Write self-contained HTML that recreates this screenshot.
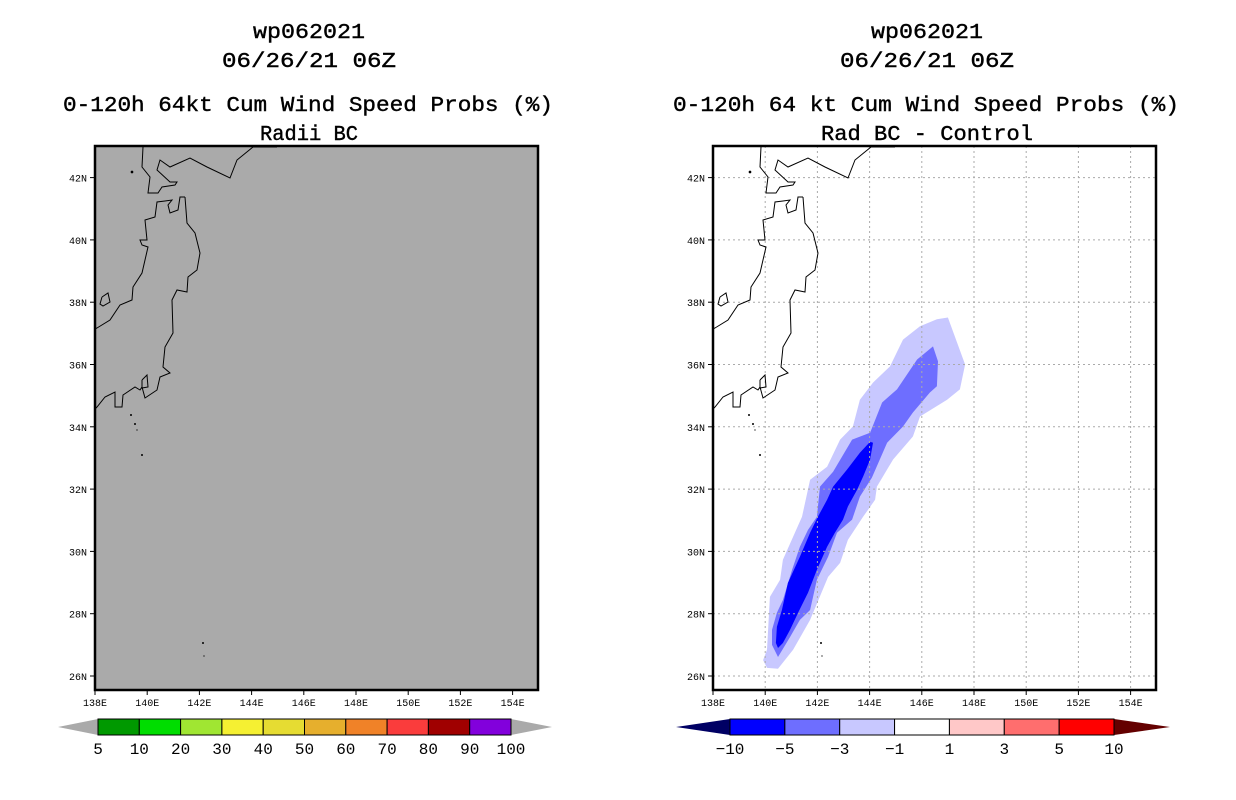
<!DOCTYPE html>
<html><head><meta charset="utf-8"><style>body{margin:0;background:#fff}svg{display:block}</style></head>
<body>
<svg id="s" width="1236" height="800" xmlns="http://www.w3.org/2000/svg" font-family="Liberation Mono, monospace"></svg>
<script>
const lonTicks=[138,140,142,144,146,148,150,152,154];
const latTicks=[26,28,30,32,34,36,38,40,42];
const leftLevels=['5','10','20','30','40','50','60','70','80','90','100'];
const leftColors=['#009900','#00dd00','#a0e632','#f5f032','#e6dc32','#e6af2d','#f08228','#fa3c3c','#a00000','#8200dc'];
const rightLevels=['\u221210','\u22125','\u22123','\u22121','1','3','5','10'];
const rightColors=['#0000ff','#6e6eff','#c8c8ff','#ffffff','#ffc8c8','#ff6e6e','#ff0000'];
// contour polygons (lon, lat)
const lvlOuterLon=[139.92,140.07,140.49,141.07,141.72,142.41,142.87,143.17,143.75,144.21,144.28,144.90,145.66,145.93,146.97,147.46,147.66,147.35,147.00,146.58,145.93,145.28,144.78,144.13,143.63,143.36,142.87,142.37,141.72,141.41,140.68,140.57,140.18,140.07];
const lvlOuterLat=[26.51,26.26,26.23,26.84,27.80,29.18,29.63,30.37,31.11,31.66,32.08,32.95,33.69,34.33,34.87,35.20,36.00,36.71,37.51,37.45,37.23,36.80,35.94,35.42,34.87,34.01,33.59,32.72,32.30,31.11,29.73,29.09,28.54,26.84];
const lvlMidLon=[140.49,140.26,140.26,140.45,140.68,141.03,141.33,141.64,141.98,142.10,142.60,143.33,144.02,144.48,145.05,145.82,146.43,146.62,146.58,146.31,145.66,145.28,144.67,144.09,143.63,143.33,142.75,142.41,141.98,141.72,141.33,140.95];
const lvlMidLat=[26.61,27.00,27.48,28.03,28.44,29.41,30.15,30.69,31.11,32.08,32.56,33.59,33.81,34.78,35.20,36.16,36.58,36.10,35.30,35.10,34.46,34.01,33.49,32.37,31.76,31.02,30.60,29.83,29.09,28.12,27.80,27.25];
const lvlInnerLon=[140.49,140.41,140.45,140.64,140.87,141.33,141.72,142.02,142.37,142.60,143.13,143.63,144.02,144.13,144.02,143.75,143.52,143.17,142.98,142.67,142.37,141.98,141.64,141.26,140.95,140.68];
const lvlInnerLat=[26.90,27.06,27.58,28.12,28.99,29.83,30.60,31.11,31.66,32.08,32.62,33.17,33.52,33.49,32.95,32.40,31.98,31.44,31.02,30.60,30.15,29.41,28.67,28.03,27.48,27.06];

const NS='http://www.w3.org/2000/svg';
const s=document.getElementById('s');
function el(t,a,p){const e=document.createElementNS(NS,t);for(const k in a)e.setAttribute(k,a[k]);(p||s).appendChild(e);return e;}
const coast=[
"143,147 142,167 150,177 148,193 158,193 162,187 175,185 177,182 170,182 157,170 160,160 170,167 190,158 207,167 230,178 237,160 253,147 277,147",
"185,197 187,223 195,233 200,253 197,270 188,277 187,292 177,290 172,300 173,333 165,347 163,367 170,373 160,377 157,390 145,398 142,387 140,390 135,387 123,395 122,407 115,407 115,392 105,397 97,407 95,409",
"185,197 180,197 178,210 170,213 168,205 172,200 165,201 157,202 155,217 145,220 147,240 140,240 142,245 148,247 142,273 133,287 132,300 120,305 110,320 97,328 95,329",
"142,380 147,375 148,387 142,388 142,380",
"102,297 108,293 110,302 103,306 100,304 102,297"];
const dots=[[132,172,2],[131,415,1.5],[135,424,1.5],[137,430,1],[142,455,1.5],[203,643,1.5],[204,656,1]];

function panel(ox,right){
  const g=el('g',{},s);
  
  
  const X0=95+ox, X1=538+ox, Y0=146, Y1=690;
  const xS=lon=>X0+(lon-138)*26.1;
  const yS=lat=>676-(lat-26)*31.15;
  el('rect',{x:X0,y:Y0,width:X1-X0,height:Y1-Y0,fill:right?'#fff':'#aaaaaa'},g);
  if(right){
    const polys=[[lvlOuterLon,lvlOuterLat,'#c8c8ff','contour-minus1'],[lvlMidLon,lvlMidLat,'#6e6eff','contour-minus3'],[lvlInnerLon,lvlInnerLat,'#0000ff','contour-minus5']];
    polys.forEach(p=>{
      const pts=p[0].map((v,i)=>xS(v).toFixed(1)+','+yS(p[1][i]).toFixed(1)).join(' ');
      const e=el('polygon',{points:pts,fill:p[2]},g);
      
      
    });
    lonTicks.forEach(l=>{if(l>138)el('line',{x1:xS(l),x2:xS(l),y1:Y0,y2:Y1,stroke:'#aaa','stroke-dasharray':'2,3'},g);});
    latTicks.forEach(l=>el('line',{x1:X0,x2:X1,y1:yS(l),y2:yS(l),stroke:'#aaa','stroke-dasharray':'2,3'},g));
  }
  const cg=el('g',{transform:`translate(${ox},0)`,fill:'none',stroke:'#000','stroke-width':1},g);
  
  
  coast.forEach(c=>el('polyline',{points:c},cg));
  dots.forEach(d=>el('circle',{cx:d[0],cy:d[1],r:d[2]/1.5,fill:'#000',stroke:'none'},cg));
  el('rect',{x:X0,y:Y0,width:X1-X0,height:Y1-Y0,fill:'none',stroke:'#000','stroke-width':2.5},g);
  lonTicks.forEach(l=>{
    el('line',{x1:xS(l),x2:xS(l),y1:Y1,y2:Y1+5,stroke:'#000'},g);
    const t=el('text',{x:xS(l),y:Y1+16,'font-size':10,'text-anchor':'middle'},g);t.textContent=l+'E';
    
    
  });
  latTicks.forEach(l=>{
    el('line',{x1:X0-5,x2:X0,y1:yS(l),y2:yS(l),stroke:'#000'},g);
    const t=el('text',{x:X0-8,y:yS(l)+4,'font-size':10,'text-anchor':'end'},g);t.textContent=l+'N';
    
    
  });
}
panel(0,false);panel(618,true);

function title(x,y,txt,w,nm){
  const t=el('text',{x:x,y:y,'font-size':21,'text-anchor':'middle',textLength:w,lengthAdjust:'spacingAndGlyphs',stroke:'#000','stroke-width':0.4});
  t.textContent=txt;
  
  
}
title(309,38,'wp062021',112,'left-title-storm');
title(309,67,'06/26/21 06Z',174,'left-title-date');
title(308,111,'0-120h 64kt Cum Wind Speed Probs (%)',490,'left-title-product');
title(309,140,'Radii BC',98,'left-subtitle');
title(927,38,'wp062021',112,'right-title-storm');
title(927,67,'06/26/21 06Z',174,'right-title-date');
title(926,111,'0-120h 64 kt Cum Wind Speed Probs (%)',506,'right-title-product');
title(927,140,'Rad BC - Control',212,'right-subtitle');

(function(){
  const g=el('g',{});
  
  
  const x0=98,x1=511,y0=719,y1=735,w=(x1-x0)/leftColors.length;
  el('polygon',{points:`58,727 ${x0},${y0} ${x0},${y1}`,fill:'#aaa'},g);
  el('polygon',{points:`${x1},${y0} 552,727 ${x1},${y1}`,fill:'#aaa'},g);
  leftColors.forEach((c,i)=>el('rect',{x:x0+i*w,y:y0,width:w,height:y1-y0,fill:c,stroke:'#000'},g));
  leftLevels.forEach((l,i)=>{const t=el('text',{x:x0+i*w,y:754,'font-size':16,'text-anchor':'middle'},g);t.textContent=l;});
})();
(function(){
  const g=el('g',{});
  
  
  const x0=730,x1=1114,y0=719,y1=735,w=(x1-x0)/rightColors.length;
  el('polygon',{points:`676,727 ${x0},${y0} ${x0},${y1}`,fill:'#000064'},g);
  el('polygon',{points:`${x1},${y0} 1170,727 ${x1},${y1}`,fill:'#640000'},g);
  rightColors.forEach((c,i)=>el('rect',{x:x0+i*w,y:y0,width:w,height:y1-y0,fill:c,stroke:'#000'},g));
  rightLevels.forEach((l,i)=>{const t=el('text',{x:x0+i*w,y:754,'font-size':16,'text-anchor':'middle'},g);t.textContent=l;});
})();
</script>
</body></html>
